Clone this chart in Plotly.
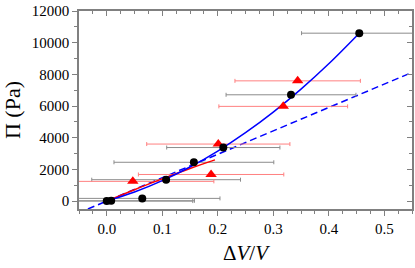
import plotly.graph_objects as go

# Black circles (data set 1)
black_x = [0.0, 0.008, 0.064, 0.107, 0.157, 0.210, 0.332, 0.455]
black_y = [0, 20, 170, 1350, 2450, 3380, 6710, 10600]
black_xerr = [0.155, 0.150, 0.140, 0.134, 0.144, 0.102, 0.117, 0.104]

# Red triangles (data set 2)
red_x = [0.047, 0.188, 0.201, 0.318, 0.344]
red_y = [1245, 1680, 3600, 5980, 7590]
red_xerr = [0.146, 0.131, 0.129, 0.116, 0.113]

# Red fit line
red_fit_x = [0.0, 0.05, 0.108, 0.15, 0.195]
red_fit_y = [0, 720, 1510, 2060, 2600]

# Blue solid fit curve
blue_fit_x = [0.0, 0.05, 0.1, 0.15, 0.2, 0.25, 0.3, 0.35, 0.4, 0.455]
blue_fit_y = [0, 570, 1290, 2150, 3160, 4320, 5620, 7070, 8670, 10600]

# Blue dashed linear line
blue_dash_x = [-0.034, 0.545]
blue_dash_y = [-500, 8050]

x_ticks = [0.0, 0.1, 0.2, 0.3, 0.4, 0.5]
x_ticklabels = ["0.0", "0.1", "0.2", "0.3", "0.4", "0.5"]
y_ticks = [0, 2000, 4000, 6000, 8000, 10000, 12000]
y_ticklabels = ["0", "2000", "4000", "6000", "8000", "10000", "12000"]

FONT = "Liberation Serif, Times New Roman, serif"
AXC = "#808080"

fig = go.Figure()

fig.add_trace(go.Scatter(x=blue_dash_x, y=blue_dash_y, mode="lines",
                         line=dict(color="#0000ff", width=1.5, dash="7px,4px"),
                         showlegend=False))
fig.add_trace(go.Scatter(x=black_x, y=black_y, mode="markers",
                         marker=dict(size=0.1, color="rgba(0,0,0,0)"),
                         error_x=dict(type="data", array=black_xerr, color="#8c8c8c",
                                      thickness=1, width=2),
                         showlegend=False))
fig.add_trace(go.Scatter(x=red_x, y=red_y, mode="markers",
                         marker=dict(size=0.1, color="rgba(0,0,0,0)"),
                         error_x=dict(type="data", array=red_xerr, color="#ff8080",
                                      thickness=1, width=2),
                         showlegend=False))
fig.add_trace(go.Scatter(x=red_fit_x, y=red_fit_y, mode="lines",
                         line=dict(color="#ff0000", width=1.5, shape="spline"),
                         showlegend=False))
fig.add_trace(go.Scatter(x=blue_fit_x, y=blue_fit_y, mode="lines",
                         line=dict(color="#0000ff", width=1.5, shape="spline"),
                         showlegend=False))
fig.add_trace(go.Scatter(x=red_x, y=red_y, mode="markers",
                         marker=dict(symbol="triangle-up", size=10, color="#ff0000"),
                         cliponaxis=False, showlegend=False))
fig.add_trace(go.Scatter(x=black_x, y=black_y, mode="markers",
                         marker=dict(symbol="circle", size=8, color="#000000"),
                         cliponaxis=False, showlegend=False))

common = dict(showgrid=False, zeroline=False, showline=True, linecolor=AXC,
              linewidth=1.5, tickcolor=AXC, tickwidth=1)

fig.update_layout(
    width=415, height=268,
    margin=dict(l=79, r=3, t=8, b=59),
    paper_bgcolor="white", plot_bgcolor="white",
    font=dict(family=FONT, color="black", size=15),
    xaxis=dict(range=[-0.05, 0.55], tickvals=x_ticks, ticktext=x_ticklabels,
               ticks="outside", ticklen=5,
               minor=dict(dtick=0.025, tick0=0, ticks="outside", ticklen=3,
                          tickcolor=AXC),
               tickfont=dict(family=FONT, size=15),
               title=dict(text="Δ<i>V</i>/<i>V</i>", font=dict(family=FONT, size=21),
                          standoff=10),
               **common),
    yaxis=dict(range=[-500, 12000], tickvals=y_ticks, ticktext=y_ticklabels,
               ticks="outside", ticklen=5,
               minor=dict(dtick=1000, tick0=0, ticks="outside", ticklen=3,
                          tickcolor=AXC),
               tickfont=dict(family=FONT, size=15),
               title=dict(text="Π (Pa)", font=dict(family=FONT, size=22),
                          standoff=8),
               **common),
    xaxis2=dict(range=[-0.05, 0.55], overlaying="x", side="top",
                tickvals=x_ticks, showticklabels=False, ticks="inside", ticklen=5,
                minor=dict(dtick=0.025, tick0=0, ticks="inside", ticklen=3,
                           tickcolor=AXC),
                anchor="y", **common),
    yaxis2=dict(range=[-500, 12000], overlaying="y", side="right",
                tickvals=y_ticks, showticklabels=False, ticks="inside", ticklen=5,
                minor=dict(dtick=1000, tick0=0, ticks="inside", ticklen=3,
                           tickcolor=AXC),
                anchor="x", **common),
)

# dummy trace to activate secondary axes
fig.add_trace(go.Scatter(x=[None], y=[None], xaxis="x2", yaxis="y2",
                         showlegend=False, hoverinfo="skip"))

fig.write_html("out.html", config={"displayModeBar": False},
               post_script="document.body.style.margin='0';document.body.style.padding='0';document.body.style.overflow='hidden';")
